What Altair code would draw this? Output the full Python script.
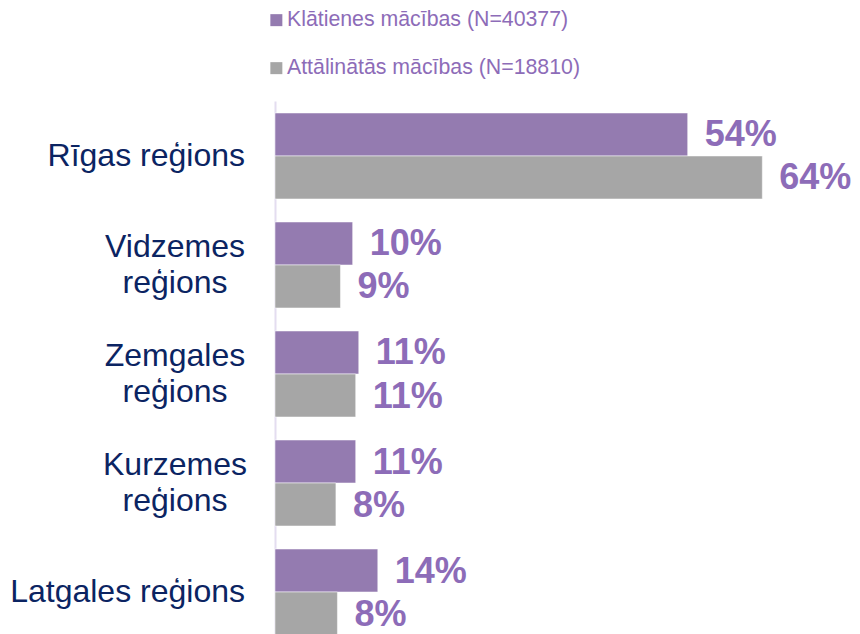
import altair as alt
import pandas as pd

# ---- data ----
regions = ["Rīgas reģions", "Vidzemes reģions", "Zemgales reģions",
           "Kurzemes reģions", "Latgales reģions"]
region_labels = ["Rīgas reģions", "Vidzemes\nreģions", "Zemgales\nreģions",
                 "Kurzemes\nreģions", "Latgales reģions"]
series = ["Klātienes mācības (N=40377)", "Attālinātās mācības (N=18810)"]
klatienes = [54.2, 10.2, 11.0, 10.6, 13.5]
attalinatas = [64.0, 8.6, 10.6, 8.0, 8.2]

# ---- styles ----
PURPLE = "#947BB0"
GRAY = "#A6A6A6"
TEXT_PURPLE = "#8D6CB8"
NAVY = "#0B2462"
FONT = "Liberation Sans"

rows = []
for i, r in enumerate(regions):
    rows.append({"region": r, "series": series[0], "value": klatienes[i] / 100})
    rows.append({"region": r, "series": series[1], "value": attalinatas[i] / 100})
df = pd.DataFrame(rows)

lab = pd.DataFrame({"region": regions, "label": region_labels})
lab["multi"] = lab["label"].str.contains("\n")

y_enc = alt.Y(
    "region:N", sort=regions, title=None,
    scale=alt.Scale(domain=regions, range=[0, 546], paddingInner=0.211, paddingOuter=0.11),
    axis=alt.Axis(labels=False, ticks=False, grid=False, domainColor="#E4DDF0", domainWidth=2),
)
yoff = alt.YOffset("series:N", sort=series, scale=alt.Scale(domain=series, paddingInner=0, paddingOuter=0))
x_enc = alt.X("value:Q", scale=alt.Scale(domain=[0, 0.7]), axis=None)

bars = alt.Chart(df).mark_bar(stroke="#ffffff", strokeWidth=1, strokeOpacity=0.5).encode(
    y=y_enc, yOffset=yoff, x=x_enc,
    color=alt.Color(
        "series:N", sort=series,
        scale=alt.Scale(domain=series, range=[PURPLE, GRAY]),
        legend=alt.Legend(
            orient="none", legendX=-14, legendY=-91.5, direction="vertical", title=None,
            symbolType="square", symbolSize=144, symbolStrokeWidth=0, symbolOffset=4.7,
            labelFont=FONT, labelFontSize=21.3, labelColor=TEXT_PURPLE,
            rowPadding=26, labelOffset=0, labelLimit=500,
        ),
    ),
)

values = alt.Chart(df).mark_text(
    align="left", baseline="middle", dx=17, dy=1, fontSize=36, fontWeight="bold",
    font=FONT, color=TEXT_PURPLE,
).encode(y=y_enc, yOffset=yoff, x=x_enc, text=alt.Text("value:Q", format=".0%"))

single = alt.Chart(lab).transform_filter("!datum.multi").mark_text(
    align="right", baseline="middle", fontSize=32, font=FONT, color=NAVY,
).encode(y=y_enc, text="label:N", x=alt.value(-30))

multi = alt.Chart(lab).transform_filter("datum.multi").mark_text(
    align="center", baseline="middle", fontSize=32, font=FONT, color=NAVY,
    lineBreak="\n", lineHeight=36, dy=-18,
).encode(y=y_enc, text="label:N", x=alt.value(-100))

chart = alt.layer(bars, values, single, multi).properties(
    width=533, height=533,
    autosize=alt.AutoSizeParams(type="none"),
    padding={"left": 267, "top": 93, "right": 44, "bottom": 0},
).configure_view(stroke=None)

chart.save("out.html", embed_options={"renderer": "svg", "actions": False})
